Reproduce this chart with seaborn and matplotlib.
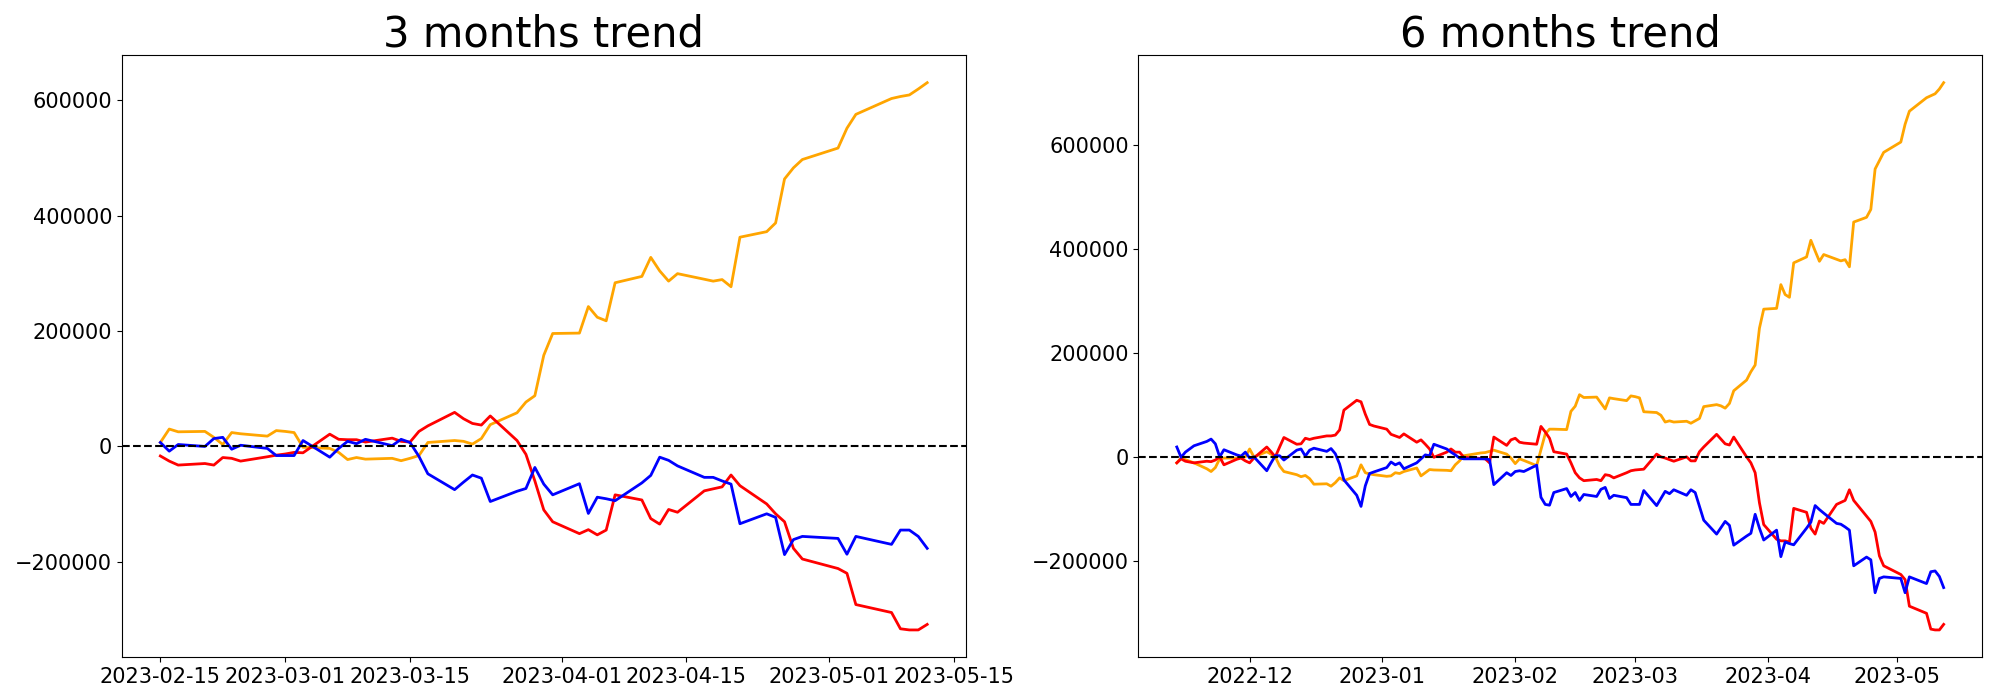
import numpy as np
import pandas as pd
import matplotlib
matplotlib.use("Agg")
import matplotlib.pyplot as plt
import seaborn as sns

# ---------------- data ----------------
holidays = ["2023-05-01", "2023-05-05"]

# 3 months window (trading days)
dates_3m = pd.bdate_range("2023-02-15", "2023-05-12", freq="C", holidays=holidays)

orange_3m = [6.9, 30.2, 25.4, 26.1, 15.8, 3.4, 24.1, 22.0, 17.9, 27.5, 26.1, 24.1, -1.4,
             -3.4, -10.3, -22.7, -19.2, -22.0, -20.6, -24.7, -20.6, -15.8, 6.9,
             10.3, 8.9, 4.1, 13.7, 37.8, 58.4, 77.0, 88.0, 158.1, 195.9,
             196.6, 242.6, 224.1, 217.9, 283.9, 294.9, 327.9, 304.5, 286.7, 299.7,
             290.0, 286.7, 289.4, 277.0, 362.9, 372.5, 387.6, 463.9, 483.2, 497.6,
             517.5, 551.9, 575.9, 603.4, 606.9, 609.6, 619.9, 630.9]
red_3m = [-16.5, -25.4, -32.3, -29.6, -32.3, -19.2, -20.6, -25.4, -17.9, -15.1, -13.1, -10.3, -11.0,
          21.3, 12.4, 11.7, 11.7, 7.6, 14.4, 8.9, 7.6, 26.1, 35.7,
          59.1, 48.1, 39.9, 37.1, 52.9, 10.3, -13.7, -59.8, -110.0, -130.6,
          -151.2, -144.3, -153.3, -145.0, -83.9, -92.8, -125.1, -134.7, -109.3, -114.1,
          -77.0, -73.5, -70.1, -49.5, -68.0, -99.7, -116.8, -130.6, -176.7, -195.2,
          -211.7, -220.0, -274.2, -288.0, -316.2, -318.2, -318.2, -308.6]
blue_3m = [6.9, -8.2, 3.4, 0.0, 13.7, 15.8, -4.8, 2.1, -3.4, -15.8, -15.8, -15.8, 10.3,
           -18.6, -3.4, 8.9, 4.8, 12.4, 1.4, 12.4, 6.9, -17.2, -47.4,
           -74.9, -61.9, -49.5, -55.0, -95.5, -77.7, -72.9, -36.4, -65.3, -83.9,
           -64.6, -116.2, -88.0, -90.7, -94.1, -63.2, -50.2, -18.6, -24.1, -33.7,
           -53.6, -53.6, -59.8, -65.3, -134.0, -116.8, -123.0, -187.6, -161.5, -156.0,
           -159.5, -186.9, -156.0, -169.8, -145.0, -145.0, -156.0, -176.7]

# 6 months window (trading days)
dates_6m = pd.bdate_range("2022-11-14", "2023-05-12", freq="C", holidays=holidays)

orange_6m = [-10.7, -1.5, -4.6, -7.6, -10.7,
             -22.1, -27.4, -19.8, -3.0, -1.5,
             -1.5, 0.0, 0.8, 16.0, 0.8,
             10.7, 6.1, 0.8, -16.8, -27.4,
             -33.5, -37.3, -35.0, -41.1, -51.8,
             -51.0, -55.6, -48.8, -39.6, -45.0,
             -35.8, -14.5, -29.7, -32.0, -33.5,
             -36.6, -35.8, -29.7, -31.2, -27.4,
             -20.6, -35.8, -29.7, -23.6, -24.4,
             -25.1, -25.9, -14.5, -6.9, 3.0,
             6.9, 8.4, 9.1, 11.4, 13.7,
             6.1, -1.5, -12.2, -3.0, -6.1,
             -16.0, 14.5, 45.0, 54.1, 54.1,
             53.3, 88.4, 98.3, 120.4, 115.0,
             115.8, 104.4, 93.0, 114.3, 112.8,
             109.0, 118.1, 116.6, 114.3, 87.6,
             86.1, 80.8, 67.8, 70.1, 67.8,
             69.3, 65.5, 70.1, 74.7, 97.5,
             101.3, 99.0, 94.5, 103.6, 128.0,
             148.6, 164.6, 177.5, 248.4, 285.0,
             286.5, 332.2, 313.1, 307.8, 374.1,
             385.5, 417.5, 397.0, 377.1, 390.1,
             381.0, 377.9, 380.2, 366.5, 452.6,
             461.7, 476.9, 554.7, 570.7, 586.7,
             606.5, 640.8, 665.9,
             691.8, 695.6, 699.4, 708.6, 720.8]
red_6m = [-10.7, -3.0, -7.6, -9.1, -10.7,
          -7.6, -8.4, -5.3, 0.8, -14.5,
          -3.8, -1.5, -6.9, -10.7, -1.5,
          19.8, 10.7, 0.8, 19.8, 38.1,
          25.1, 25.9, 36.6, 34.3, 36.6,
          41.1, 41.1, 42.7, 52.6, 90.7,
          109.7, 106.7, 83.0, 63.2, 60.2,
          54.1, 44.2, 41.1, 38.1, 45.0,
          29.0, 33.5, 25.1, 16.0, 0.0,
          9.9, 16.0, 9.9, 9.9, 0.0,
          -1.5, -2.3, -3.0, -10.7, 38.9,
          22.9, 33.5, 36.6, 29.0, 27.4,
          25.1, 59.4, 48.8, 36.6, 10.7,
          6.1, -10.7, -29.7, -39.6, -45.0,
          -42.7, -45.0, -33.5, -35.0, -39.6,
          -29.7, -25.9, -24.4, -23.6, -22.9,
          6.1, 0.8, -1.5, -4.6, -7.6,
          0.8, -6.9, -6.9, 10.7, 19.8,
          44.2, 35.0, 25.9, 23.6, 38.9,
          0.8, -10.7, -29.7, -87.6, -129.5,
          -157.7, -160.8, -160.8, -163.0, -98.3,
          -105.9, -136.4, -147.8, -122.7, -127.2,
          -90.7, -86.9, -83.0, -62.5, -83.0,
          -113.5, -123.4, -144.0, -189.7, -208.8,
          -225.5, -235.4, -286.5,
          -300.2, -330.6, -332.2, -332.2, -321.5]
blue_6m = [19.8, 0.0, 9.9, 16.0, 22.1,
           30.5, 35.0, 25.9, 0.8, 14.5,
           4.6, 2.3, 9.9, -1.5, 0.8,
           -25.9, -10.7, 3.0, 3.0, -5.3,
           13.7, 16.0, 2.3, 13.7, 17.5,
           11.4, 16.8, 6.9, -13.0, -43.4,
           -73.1, -94.5, -54.9, -31.2, -28.2,
           -19.8, -9.1, -14.5, -10.7, -22.1,
           -10.7, -3.0, 4.6, 3.0, 25.1,
           16.0, 9.9, 4.6, -1.5, -3.0,
           -3.0, -3.0, -3.0, -4.6, -52.6,
           -29.7, -35.0, -27.4, -25.9, -27.4,
           -15.2, -77.0, -90.7, -92.2, -67.8,
           -60.2, -75.4, -67.8, -83.0, -71.6,
           -75.4, -61.7, -57.9, -79.2, -73.1,
           -77.7, -90.7, -90.7, -90.7, -64.0,
           -93.0, -79.2, -65.5, -70.1, -62.5,
           -73.1, -62.5, -67.8, -94.5, -121.1,
           -147.8, -135.6, -123.4, -131.0, -169.1,
           -151.6, -146.3, -109.7, -136.4, -159.2,
           -140.2, -191.2, -163.0, -166.1, -168.4,
           -136.4, -124.9, -92.9, -100.6, -107.4,
           -127.2, -128.8, -134.1, -140.2, -208.8,
           -192.0, -197.3, -260.6, -233.1, -230.1,
           -233.1, -260.6, -230.1,
           -243.0, -220.2, -218.7, -229.3, -250.7]

titles = ["3 months trend", "6 months trend"]
series_colors = ["orange", "red", "blue"]
UNIT = 1000  # values above are in thousands

# ---------------- plot ----------------
fig, axes = plt.subplots(1, 2, figsize=(20, 7), dpi=100)
fig.subplots_adjust(left=0.061, right=0.991, bottom=0.061, top=0.921, wspace=0.205)

panels = [
    (dates_3m, [orange_3m, red_3m, blue_3m]),
    (dates_6m, [orange_6m, red_6m, blue_6m]),
]

for ax, (dates, series), title in zip(axes, panels, titles):
    for vals, col in zip(series, series_colors):
        sns.lineplot(x=np.array(dates), y=np.array(vals) * UNIT, color=col,
                     linewidth=2, ax=ax)
    ax.axhline(0, color="black", linestyle="--", linewidth=1.5)
    ax.set_title(title, fontsize=30)
    ax.tick_params(axis="both", labelsize=15)
    ax.set_xlabel("")
    ax.set_ylabel("")

fig.savefig("out.png", dpi=100)
